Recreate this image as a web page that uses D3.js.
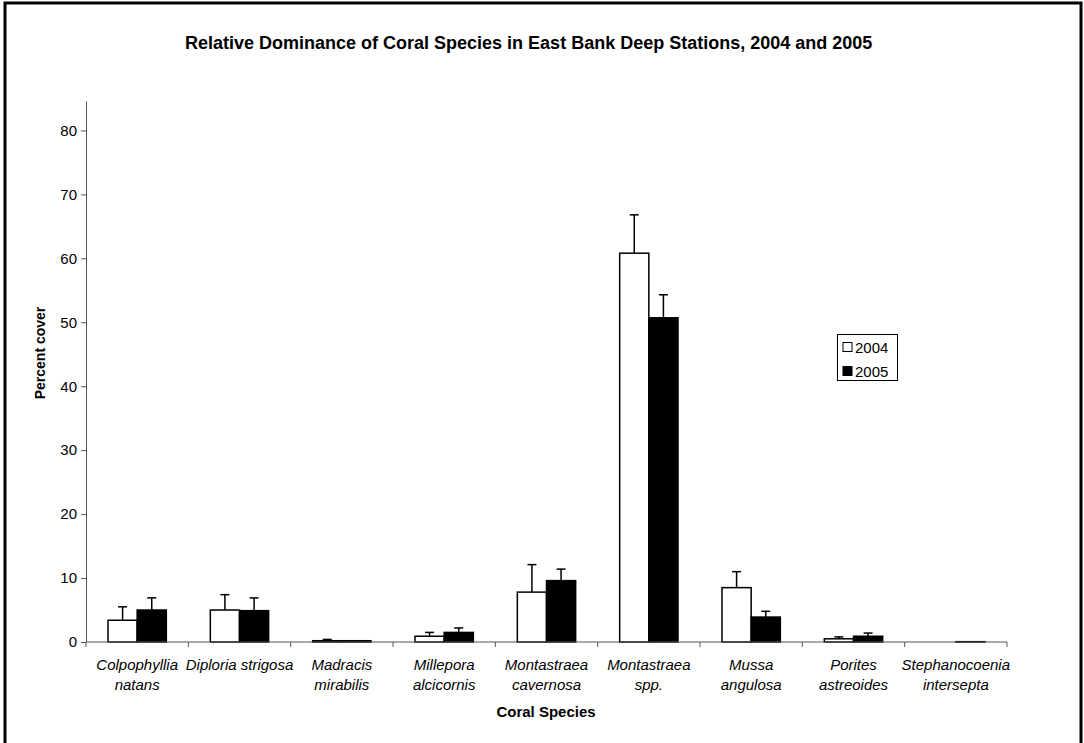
<!DOCTYPE html>
<html>
<head>
<meta charset="utf-8">
<script src="https://cdn.jsdelivr.net/npm/d3@7"></script>
<style>
  html, body { margin: 0; padding: 0; background: #fff; }
  svg { display: block; font-family: "Liberation Sans", Arial, sans-serif; }
</style>
</head>
<body>
<svg id="chart" width="1084" height="743"></svg>
<script>
// Coral species (two-line labels) and mean percent cover per survey year
const species = [
  ["Colpophyllia", "natans"],
  ["Diploria strigosa"],
  ["Madracis", "mirabilis"],
  ["Millepora", "alcicornis"],
  ["Montastraea", "cavernosa"],
  ["Montastraea", "spp."],
  ["Mussa", "angulosa"],
  ["Porites", "astreoides"],
  ["Stephanocoenia", "intersepta"]
];
const years = ["2004", "2005"];
const cover2004 = [3.4, 5.0, 0.2, 0.9, 7.8, 60.8, 8.5, 0.5, 0.0];
const cover2005 = [5.0, 4.9, 0.2, 1.5, 9.6, 50.7, 3.9, 0.9, 0.05];
const err2004   = [2.1, 2.4, 0.2, 0.6, 4.3, 6.0, 2.5, 0.3, 0.0];
const err2005   = [1.9, 2.0, 0.0, 0.7, 1.8, 3.6, 0.9, 0.5, 0.0];
const yTicks = [0, 10, 20, 30, 40, 50, 60, 70, 80];

const svg = d3.select("#chart");
const FONT = "Liberation Sans, Arial, sans-serif";

// outer frame
svg.append("rect")
  .attr("x", 5).attr("y", 3).attr("width", 1076).attr("height", 745)
  .attr("fill", "none").attr("stroke", "#000").attr("stroke-width", 3);

const plot = { left: 86, right: 1007, top: 101, bottom: 642 };

const x = d3.scaleBand()
  .domain(d3.range(species.length))
  .range([plot.left, plot.right])
  .paddingInner(0).paddingOuter(0);

const y = d3.scaleLinear().domain([0, 84.6]).range([plot.bottom, plot.top]);

const groupPad = 0.215;  // fraction of the band left empty on each side
const barW = x.bandwidth() * (1 - 2 * groupPad) / 2;

const data = [];
species.forEach((s, i) => {
  data.push({ i, k: 0, v: cover2004[i], e: err2004[i] });
  data.push({ i, k: 1, v: cover2005[i], e: err2005[i] });
});
const barX = d => x(d.i) + x.bandwidth() * groupPad + d.k * barW;

// bars
svg.append("g").selectAll("rect").data(data.filter(d => d.v > 0)).join("rect")
  .attr("x", barX)
  .attr("y", d => y(d.v))
  .attr("width", barW)
  .attr("height", d => y(0) - y(d.v))
  .attr("fill", d => d.k === 0 ? "#fff" : "#000")
  .attr("stroke", "#000")
  .attr("stroke-width", 1.5);

// upper error whiskers
const eg = svg.append("g").attr("stroke", "#000").attr("stroke-width", 1.5);
data.filter(d => d.e > 0).forEach(d => {
  const cx = barX(d) + barW / 2;
  eg.append("line").attr("x1", cx).attr("x2", cx)
    .attr("y1", y(d.v)).attr("y2", y(d.v + d.e));
  eg.append("line").attr("x1", cx - 4.5).attr("x2", cx + 4.5)
    .attr("y1", y(d.v + d.e)).attr("y2", y(d.v + d.e));
});

// y axis
const yAxis = svg.append("g")
  .attr("transform", `translate(${plot.left},0)`)
  .call(d3.axisLeft(y).tickValues(yTicks).tickSize(5).tickSizeOuter(0).tickPadding(4));
yAxis.select(".domain").attr("stroke", "#555").attr("stroke-width", 1);
yAxis.selectAll(".tick line").attr("stroke", "#555");
yAxis.selectAll("text").attr("font-size", 15).attr("fill", "#000").attr("font-family", FONT);

// x axis with ticks on category boundaries
svg.append("line")
  .attr("x1", plot.left).attr("x2", plot.right)
  .attr("y1", y(0)).attr("y2", y(0))
  .attr("stroke", "#555").attr("stroke-width", 1);
const bounds = d3.range(species.length + 1).map(i => i < species.length ? x(i) : plot.right);
svg.append("g").selectAll("line").data(bounds).join("line")
  .attr("x1", d => d).attr("x2", d => d)
  .attr("y1", y(0)).attr("y2", y(0) + 5)
  .attr("stroke", "#555");

// category labels
const cl = svg.append("g").attr("font-size", 15).attr("font-style", "italic")
  .attr("text-anchor", "middle").attr("fill", "#000");
species.forEach((lines, i) => {
  const cx = x(i) + x.bandwidth() / 2;
  const t = cl.append("text").attr("x", cx).attr("y", 670);
  lines.forEach((ln, j) => {
    t.append("tspan").attr("x", cx).attr("dy", j === 0 ? 0 : 20).text(ln);
  });
});

// titles
svg.append("text")
  .attr("x", 185).attr("y", 49)
  .attr("text-anchor", "start").attr("font-size", 18).attr("font-weight", "bold")
  .text("Relative Dominance of Coral Species in East Bank Deep Stations, 2004 and 2005");

svg.append("text")
  .attr("x", 546).attr("y", 717)
  .attr("text-anchor", "middle").attr("font-size", 15).attr("font-weight", "bold")
  .text("Coral Species");

svg.append("text")
  .attr("transform", "translate(45,353) rotate(-90)")
  .attr("text-anchor", "middle").attr("font-size", 14).attr("font-weight", "bold")
  .text("Percent cover");

// legend
const lg = svg.append("g");
lg.append("rect").attr("x", 837.5).attr("y", 334.5).attr("width", 60).attr("height", 46)
  .attr("fill", "#fff").attr("stroke", "#000").attr("stroke-width", 1);
years.forEach((yr, k) => {
  const cy = 347 + k * 24;
  lg.append("rect").attr("x", 843).attr("y", cy - 4.5).attr("width", 9).attr("height", 9)
    .attr("fill", k === 0 ? "#fff" : "#000").attr("stroke", "#000").attr("stroke-width", 1);
  lg.append("text").attr("x", 855).attr("y", cy + 5.5).attr("font-size", 15).text(yr);
});
</script>
</body>
</html>
